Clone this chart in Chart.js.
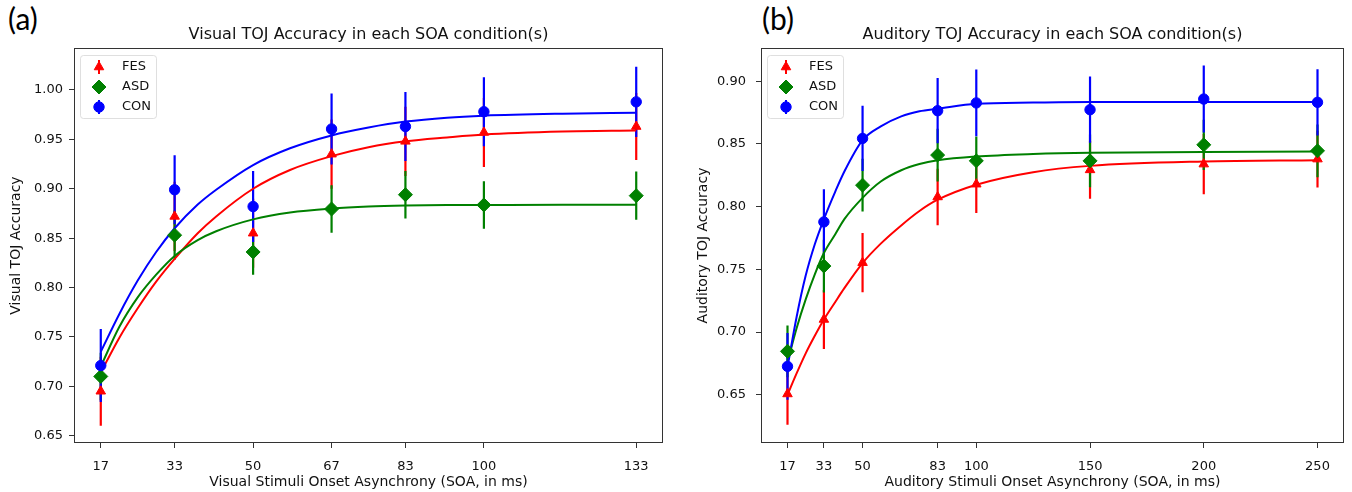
<!DOCTYPE html>
<html>
<head>
<meta charset="utf-8">
<script src="https://cdn.jsdelivr.net/npm/chart.js@4.4.1/dist/chart.umd.min.js"></script>
<style>
  body { margin: 0; background: #fff; width: 1352px; height: 492px; position: relative; overflow: hidden; }
  canvas { position: absolute; top: 0; }
  .tag { position: absolute; top: 0; font-family: Lato, "Open Sans", sans-serif; font-size: 30px; line-height: 36px; color: #000; }
</style>
</head>
<body>
<div class="tag" style="left:8px">(a)</div>
<div class="tag" style="left:762px">(b)</div>
<canvas id="visual" width="676" height="492" style="left:0"></canvas>
<canvas id="auditory" width="672" height="492" style="left:680px"></canvas>
<script>
// ---- visual TOJ (panel a) ----
const soaVisual = [17, 33, 50, 67, 83, 100, 133];
const visFES = [0.695, 0.872, 0.855, 0.935, 0.948, 0.957, 0.963];
const visFESerr = [0.035, 0.035, 0.035, 0.035, 0.035, 0.035, 0.034];
const visASD = [0.710, 0.853, 0.836, 0.8795, 0.894, 0.8836, 0.893];
const visASDerr = [0.024, 0.025, 0.023, 0.024, 0.024, 0.024, 0.0245];
const visCON = [0.721, 0.899, 0.882, 0.9605, 0.963, 0.978, 0.988];
const visCONerr = [0.037, 0.035, 0.036, 0.036, 0.035, 0.035, 0.0355];

// fitted curves
const fitVisX = [17, 21, 25, 29, 33, 38, 42, 50, 58, 67, 75, 83, 92, 100, 117, 133];
const visFESfit = [0.714, 0.749, 0.779, 0.806, 0.829, 0.855, 0.872, 0.900, 0.919, 0.933, 0.942, 0.948, 0.952, 0.955, 0.958, 0.959];
const visASDfit = [0.720, 0.760, 0.790, 0.813, 0.832, 0.848, 0.857, 0.869, 0.876, 0.880, 0.882, 0.883, 0.8835, 0.8836, 0.8838, 0.8839];
const visCONfit = [0.735, 0.773, 0.807, 0.836, 0.860, 0.884, 0.899, 0.924, 0.941, 0.954, 0.962, 0.968, 0.972, 0.974, 0.976, 0.977];

const visXTicks = [17, 33, 50, 67, 83, 100, 133];
const visYTicks = [0.65, 0.70, 0.75, 0.80, 0.85, 0.90, 0.95, 1.00];

// ---- auditory TOJ (panel b) ----
const soaAud = [17, 33, 50, 83, 100, 150, 200, 250];
const audFES = [0.6506, 0.710, 0.7553, 0.8077, 0.8179, 0.8293, 0.8339, 0.8379];
const audFESerr = [0.0246, 0.0235, 0.0236, 0.0226, 0.023, 0.023, 0.024, 0.0226];
const audASD = [0.6846, 0.7526, 0.8171, 0.8411, 0.8365, 0.8365, 0.8493, 0.8445];
const audASDerr = [0.0206, 0.021, 0.021, 0.021, 0.0195, 0.021, 0.02, 0.021];
const audCON = [0.6726, 0.7878, 0.8544, 0.8765, 0.8827, 0.8773, 0.8858, 0.8832];
const audCONerr = [0.0267, 0.026, 0.026, 0.026, 0.0266, 0.0264, 0.0267, 0.0264];

const fitAudX = [17, 21, 25, 29, 33, 38, 42, 50, 58, 67, 75, 83, 100, 125, 150, 200, 250];
const audFESfit = [0.650, 0.667, 0.683, 0.697, 0.710, 0.724, 0.735, 0.755, 0.7705, 0.785, 0.7965, 0.8055, 0.8175, 0.8275, 0.8325, 0.836, 0.837];
const audASDfit = [0.676, 0.703, 0.726, 0.746, 0.763, 0.778, 0.790, 0.807, 0.820, 0.829, 0.834, 0.837, 0.840, 0.842, 0.843, 0.8435, 0.844];
const audCONfit = [0.672, 0.712, 0.745, 0.770, 0.790, 0.812, 0.828, 0.853, 0.864, 0.872, 0.876, 0.878, 0.882, 0.883, 0.8835, 0.8835, 0.8835];

const audXTicks = [17, 33, 50, 83, 100, 150, 200, 250];
const audYTicks = [0.65, 0.70, 0.75, 0.80, 0.85, 0.90];

const groupNames = ['FES', 'ASD', 'CON'];
const groupColors = ['red', 'green', 'blue'];
const groupMarkers = [
  { style: 'triangle', radius: 5.5 },
  { style: 'rectRot', radius: 7 },
  { style: 'circle', radius: 5.2 },
];

Chart.defaults.font.family = '"DejaVu Sans", sans-serif';
Chart.defaults.color = '#111';

function errorBars(xs, ys, errs) {
  const pts = [];
  xs.forEach((x, i) => {
    pts.push({ x: x, y: ys[i] - errs[i] }, { x: x, y: ys[i] + errs[i] }, { x: x, y: null });
  });
  return pts;
}

function pairs(xs, ys) {
  return xs.map((x, i) => ({ x: x, y: ys[i] }));
}

// matplotlib-like box around the plot area
const frame = {
  id: 'frame',
  afterDraw(chart) {
    const { ctx, chartArea: a } = chart;
    ctx.save();
    ctx.strokeStyle = '#333';
    ctx.lineWidth = 1;
    ctx.strokeRect(Math.round(a.left) + 0.5, Math.round(a.top) + 0.5,
      Math.round(a.right - a.left) - 1, Math.round(a.bottom - a.top) - 1);
    ctx.restore();
  }
};

// legend in the upper-left corner of the axes
const insideLegend = {
  id: 'insideLegend',
  afterDraw(chart) {
    const { ctx, chartArea: a } = chart;
    const x0 = Math.round(a.left), y0 = Math.round(a.top);
    ctx.save();
    ctx.strokeStyle = 'rgba(215,215,215,0.8)';
    ctx.fillStyle = 'rgba(255,255,255,0.8)';
    ctx.lineWidth = 1;
    ctx.beginPath();
    ctx.roundRect(x0 + 6.5, y0 + 7.5, 76, 63, 3);
    ctx.fill();
    ctx.stroke();
    chart.data.datasets.filter(d => d.isMarker).forEach((d, i) => {
      const cx = x0 + 25, cy = y0 + 19 + i * 20;
      ctx.strokeStyle = d.borderColor;
      ctx.lineWidth = 2;
      ctx.beginPath();
      ctx.moveTo(cx, cy - 7);
      ctx.lineTo(cx, cy + 7);
      ctx.stroke();
      ctx.fillStyle = d.backgroundColor;
      ctx.lineWidth = 1;
      Chart.helpers.drawPoint(ctx, { pointStyle: d.pointStyle, radius: d.pointRadius, borderWidth: 1, rotation: 0 }, cx, cy);
      ctx.fillStyle = '#111';
      ctx.font = '13px "DejaVu Sans"';
      ctx.textBaseline = 'middle';
      ctx.textAlign = 'left';
      ctx.fillText(d.label, x0 + 48, cy);
    });
    ctx.restore();
  }
};

function makeChart(id, p) {
  const datasets = [];
  p.series.forEach((s, i) => {
    datasets.push({
      label: groupNames[i] + ' err',
      data: errorBars(p.soa, s.values, s.errs),
      showLine: true, spanGaps: false,
      borderColor: groupColors[i], borderWidth: 2.2, pointRadius: 0,
      order: 9 - i,
    });
  });
  p.series.forEach((s, i) => {
    datasets.push({
      label: groupNames[i] + ' fit',
      data: pairs(p.fitX, s.fit),
      showLine: true, cubicInterpolationMode: 'monotone',
      borderColor: groupColors[i], borderWidth: 2, pointRadius: 0,
      order: 6 - i,
    });
  });
  p.series.forEach((s, i) => {
    datasets.push({
      label: groupNames[i],
      isMarker: true,
      data: pairs(p.soa, s.values),
      showLine: false,
      pointStyle: groupMarkers[i].style,
      pointRadius: groupMarkers[i].radius,
      backgroundColor: groupColors[i], borderColor: groupColors[i],
      pointBorderWidth: 1,
      order: 3 - i,
    });
  });

  return new Chart(document.getElementById(id), {
    type: 'scatter',
    data: { datasets: datasets },
    plugins: [frame, insideLegend],
    options: {
      responsive: false,
      animation: false,
      devicePixelRatio: 1,
      layout: { padding: { left: 0, right: p.rightPad, top: 0, bottom: 0 } },
      plugins: {
        legend: { display: false },
        tooltip: { enabled: false },
        title: {
          display: true, text: p.title, color: '#111', fullSize: false,
          font: { size: 16, weight: 'normal' },
          padding: { top: 25.4, bottom: 3.4 },
        },
      },
      scales: {
        x: {
          type: 'linear', min: p.xMin, max: p.xMax,
          afterFit: (scale) => { scale.height = 49; },
          afterBuildTicks: (scale) => { scale.ticks = p.xTicks.map(v => ({ value: v })); },
          grid: { drawOnChartArea: false, drawTicks: true, tickLength: 5, tickColor: '#333', tickWidth: 1 },
          border: { display: false },
          ticks: { autoSkip: false, maxRotation: 0, padding: 11, font: { size: 13 }, callback: (v) => String(v) },
          title: { display: true, text: p.xTitle, font: { size: 14 }, padding: { top: 0, bottom: 1.5 } },
        },
        y: {
          type: 'linear', min: p.yMin, max: p.yMax,
          afterFit: (scale) => { scale.width = p.yWidth; },
          afterBuildTicks: (scale) => { scale.ticks = p.yTicks.map(v => ({ value: v })); },
          grid: { drawOnChartArea: false, drawTicks: true, tickLength: 5, tickColor: '#333', tickWidth: 1 },
          border: { display: false },
          ticks: { padding: p.yTickPad, font: { size: 13 }, callback: (v) => Number(v).toFixed(2) },
          title: { display: true, text: p.yTitle, font: { size: 14 }, padding: { top: p.yTitlePad, bottom: 0 } },
        },
      },
    },
  });
}

makeChart('visual', {
  title: 'Visual TOJ Accuracy in each SOA condition(s)',
  xTitle: 'Visual Stimuli Onset Asynchrony (SOA, in ms)',
  yTitle: 'Visual TOJ Accuracy',
  soa: soaVisual, fitX: fitVisX,
  series: [
    { values: visFES, errs: visFESerr, fit: visFESfit },
    { values: visASD, errs: visASDerr, fit: visASDfit },
    { values: visCON, errs: visCONerr, fit: visCONfit },
  ],
  xTicks: visXTicks, yTicks: visYTicks,
  xMin: 11.2, xMax: 138.8, yMin: 0.6426, yMax: 1.0425,
  yWidth: 74, rightPad: 13, yTickPad: 6, yTitlePad: 8,
});

makeChart('auditory', {
  title: 'Auditory TOJ Accuracy in each SOA condition(s)',
  xTitle: 'Auditory Stimuli Onset Asynchrony (SOA, in ms)',
  yTitle: 'Auditory TOJ Accuracy',
  soa: soaAud, fitX: fitAudX,
  series: [
    { values: audFES, errs: audFESerr, fit: audFESfit },
    { values: audASD, errs: audASDerr, fit: audASDfit },
    { values: audCON, errs: audCONerr, fit: audCONfit },
  ],
  xTicks: audXTicks, yTicks: audYTicks,
  xMin: 5.35, xMax: 261.65, yMin: 0.6115, yMax: 0.9265,
  yWidth: 81, rightPad: 3.5, yTickPad: 10, yTitlePad: 14.5,
});
</script>
</body>
</html>
